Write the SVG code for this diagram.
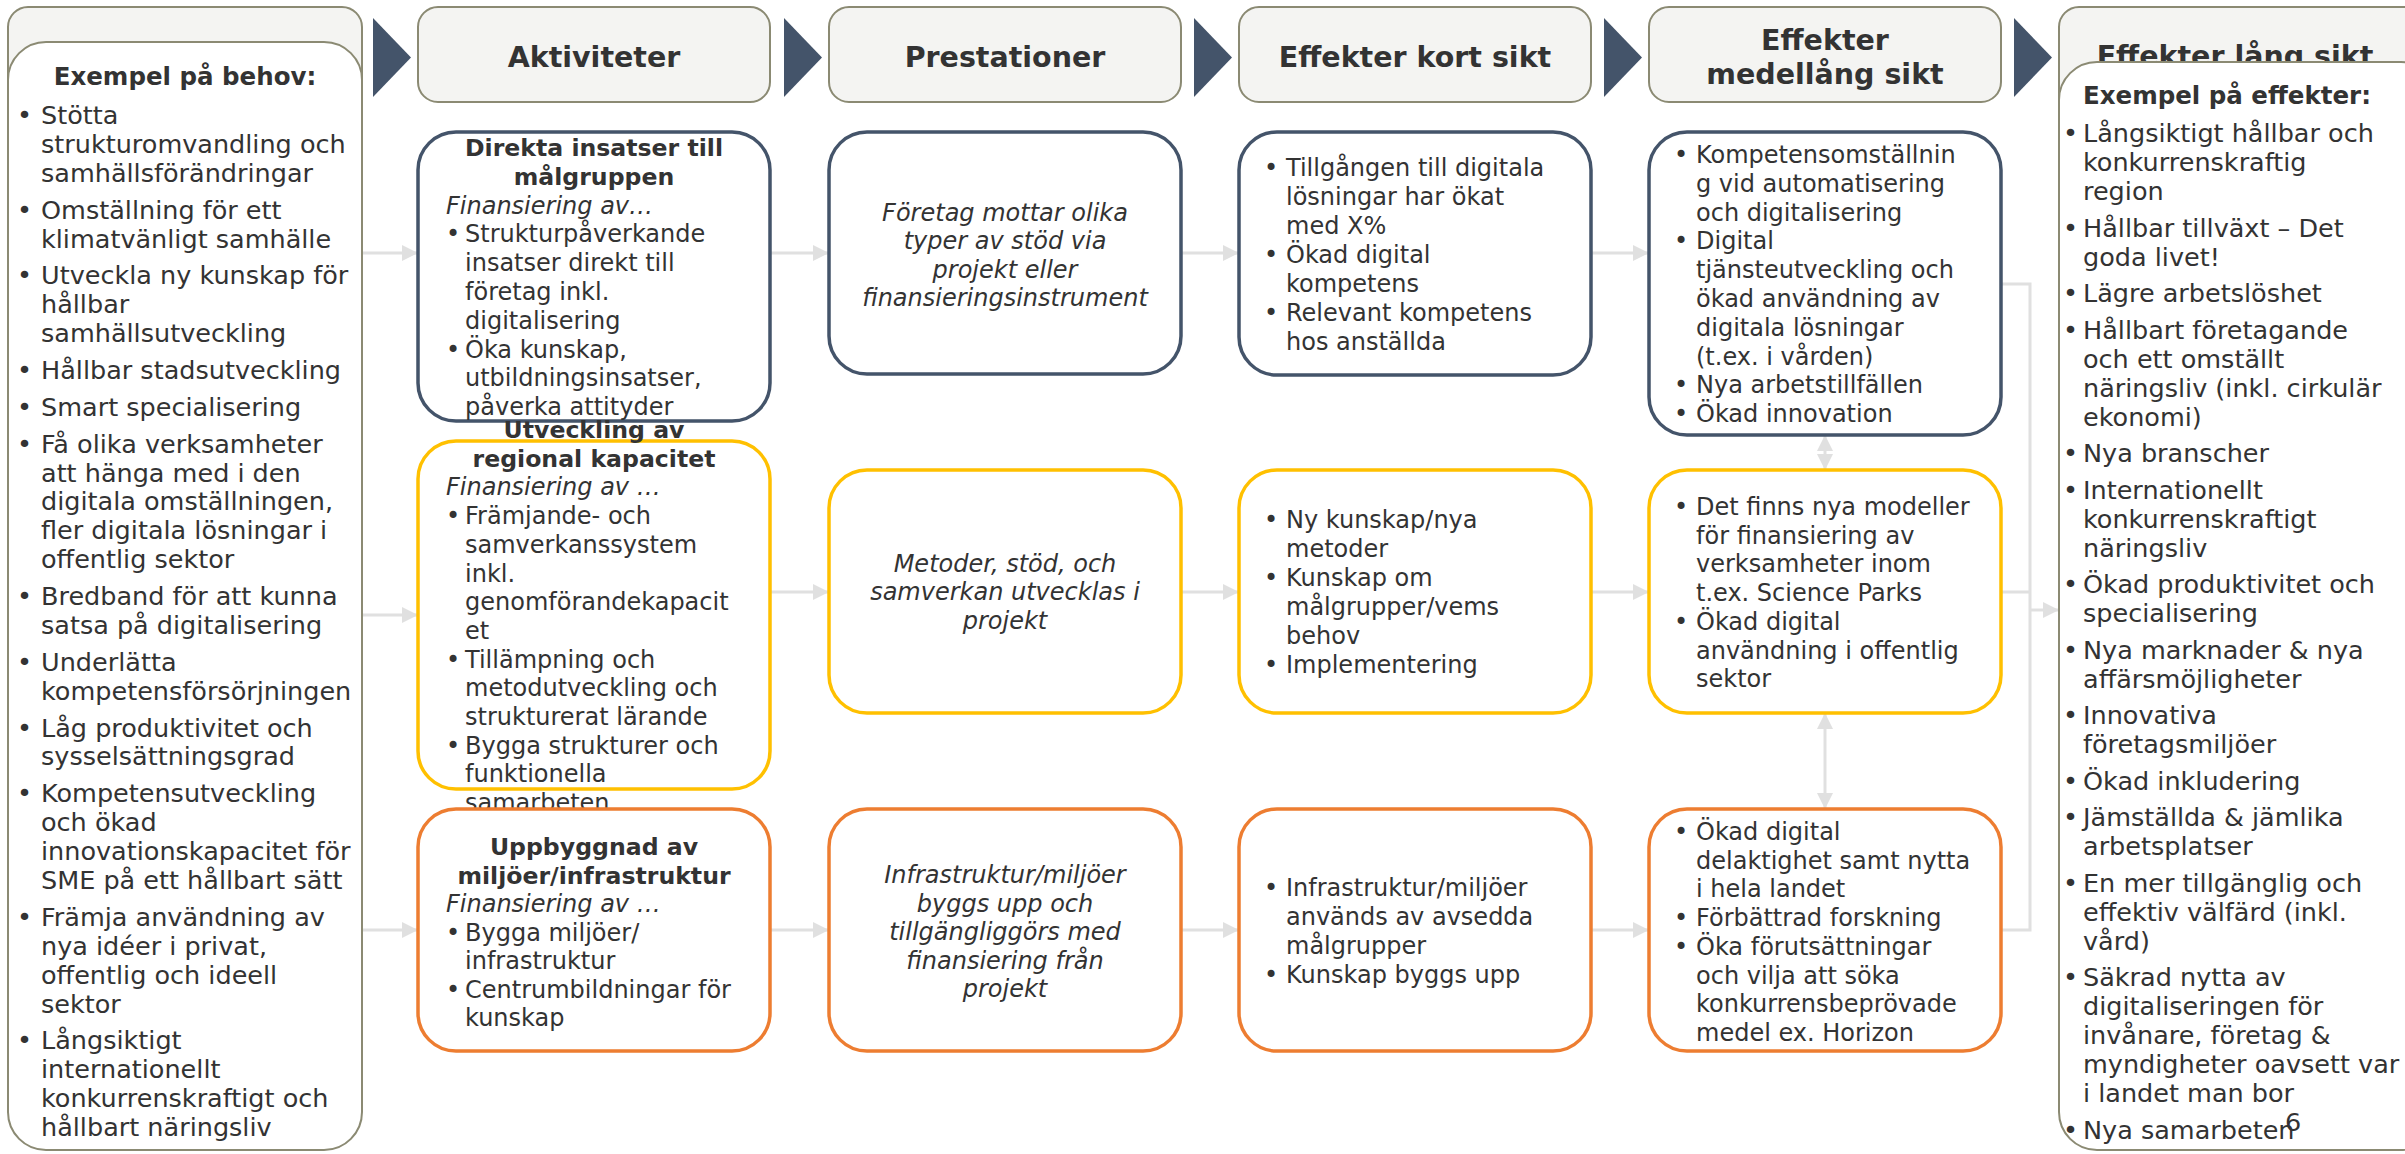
<svg xmlns="http://www.w3.org/2000/svg" width="2405" height="1154" viewBox="0 0 2405 1154">
<defs>
<style>
text{font-family:"DejaVu Sans",Verdana,sans-serif;fill:#333333}
.hdr{fill:#f4f4f2;stroke:#8b8a73;stroke-width:2}
.panel{fill:#ffffff;stroke:#8b8a73;stroke-width:2}
.chev{fill:#44546a}
.box{fill:#ffffff;stroke-width:3.5}
.blue{stroke:#44546a}
.yel{stroke:#ffc000}
.org{stroke:#ed7d31}
.ht{font-size:28.5px;font-weight:bold;text-anchor:middle}
.pt{font-size:25.5px}
.ptb{font-size:24.5px;font-weight:bold;text-anchor:middle}
.t{font-size:24px}
.tb{font-size:23.6px;font-weight:bold;text-anchor:middle}
.ti{font-size:24px;font-style:italic}
.tc{font-size:24px;font-style:italic;text-anchor:middle}
.conn{fill:none;stroke:#e0e0e0;stroke-width:3}
</style>
<marker id="ah" viewBox="0 0 16 16" markerWidth="16" markerHeight="16" refX="16" refY="8" orient="auto-start-reverse" markerUnits="userSpaceOnUse"><path d="M0,0 L16,8 L0,16 z" fill="#e0e0e0"/></marker>
</defs>

<g id="headers">
<rect class="hdr" x="8" y="7" width="354" height="150" rx="20"/>
<rect class="hdr" x="418" y="7" width="352" height="95" rx="20"/>
<text class="ht" x="594" y="67">Aktiviteter</text>
<rect class="hdr" x="829" y="7" width="352" height="95" rx="20"/>
<text class="ht" x="1005" y="67">Prestationer</text>
<rect class="hdr" x="1239" y="7" width="352" height="95" rx="20"/>
<text class="ht" x="1415" y="67">Effekter kort sikt</text>
<rect class="hdr" x="1649" y="7" width="352" height="95" rx="20"/>
<text class="ht" x="1825" y="50">Effekter</text>
<text class="ht" x="1825" y="84">medellång sikt</text>
<rect class="hdr" x="2059" y="7" width="380" height="150" rx="20"/>
<text class="ht" x="2235" y="66">Effekter lång sikt</text>
</g>

<g id="chevrons">
<polygon class="chev" points="373,18 411,57.5 373,97"/>
<polygon class="chev" points="784,18 822,57.5 784,97"/>
<polygon class="chev" points="1194,18 1232,57.5 1194,97"/>
<polygon class="chev" points="1604,18 1642,57.5 1604,97"/>
<polygon class="chev" points="2014,18 2052,57.5 2014,97"/>
</g>

<g id="connectors">
<path class="conn" marker-end="url(#ah)" d="M362,253 H418"/>
<path class="conn" marker-end="url(#ah)" d="M770,253 H829"/>
<path class="conn" marker-end="url(#ah)" d="M1181,253 H1239"/>
<path class="conn" marker-end="url(#ah)" d="M1591,253 H1649"/>
<path class="conn" marker-end="url(#ah)" d="M362,615 H418"/>
<path class="conn" marker-end="url(#ah)" d="M770,592 H829"/>
<path class="conn" marker-end="url(#ah)" d="M1181,592 H1239"/>
<path class="conn" marker-end="url(#ah)" d="M1591,592 H1649"/>
<path class="conn" marker-end="url(#ah)" d="M362,930 H418"/>
<path class="conn" marker-end="url(#ah)" d="M770,930 H829"/>
<path class="conn" marker-end="url(#ah)" d="M1181,930 H1239"/>
<path class="conn" marker-end="url(#ah)" d="M1591,930 H1649"/>
<path class="conn" d="M2001,284 H2030 V930 H2001 M2001,592 H2030"/>
<path class="conn" marker-end="url(#ah)" d="M2030,610 H2059"/>
<path class="conn" marker-start="url(#ah)" marker-end="url(#ah)" d="M1825,435 V470"/>
<path class="conn" marker-start="url(#ah)" marker-end="url(#ah)" d="M1825,713 V809"/>
</g>

<g id="behov">
<rect class="panel" x="8" y="42" width="354" height="1108" rx="38"/>
<text class="ptb" x="185" y="85">Exempel på behov:</text>
<g class="pt">
<text x="17" y="124">•</text><text x="41" y="124">Stötta</text>
<text x="41" y="153">strukturomvandling och</text>
<text x="41" y="182">samhällsförändringar</text>
<text x="17" y="218.7">•</text><text x="41" y="218.7">Omställning för ett</text>
<text x="41" y="247.6">klimatvänligt samhälle</text>
<text x="17" y="284.4">•</text><text x="41" y="284.4">Utveckla ny kunskap för</text>
<text x="41" y="313.3">hållbar</text>
<text x="41" y="342.3">samhällsutveckling</text>
<text x="17" y="379">•</text><text x="41" y="379">Hållbar stadsutveckling</text>
<text x="17" y="415.8">•</text><text x="41" y="415.8">Smart specialisering</text>
<text x="17" y="452.5">•</text><text x="41" y="452.5">Få olika verksamheter</text>
<text x="41" y="481.5">att hänga med i den</text>
<text x="41" y="510.4">digitala omställningen,</text>
<text x="41" y="539.4">fler digitala lösningar i</text>
<text x="41" y="568.3">offentlig sektor</text>
<text x="17" y="605">•</text><text x="41" y="605">Bredband för att kunna</text>
<text x="41" y="634">satsa på digitalisering</text>
<text x="17" y="670.8">•</text><text x="41" y="670.8">Underlätta</text>
<text x="41" y="699.7">kompetensförsörjningen</text>
<text x="17" y="736.5">•</text><text x="41" y="736.5">Låg produktivitet och</text>
<text x="41" y="765.4">sysselsättningsgrad</text>
<text x="17" y="802.2">•</text><text x="41" y="802.2">Kompetensutveckling</text>
<text x="41" y="831.1">och ökad</text>
<text x="41" y="860">innovationskapacitet för</text>
<text x="41" y="889">SME på ett hållbart sätt</text>
<text x="17" y="925.8">•</text><text x="41" y="925.8">Främja användning av</text>
<text x="41" y="954.7">nya idéer i privat,</text>
<text x="41" y="983.7">offentlig och ideell</text>
<text x="41" y="1012.6">sektor</text>
<text x="17" y="1049.4">•</text><text x="41" y="1049.4">Långsiktigt</text>
<text x="41" y="1078.3">internationellt</text>
<text x="41" y="1107.3">konkurrenskraftigt och</text>
<text x="41" y="1136.2">hållbart näringsliv</text>
</g>
</g>

<g id="effekter">
<rect class="panel" x="2059" y="62" width="380" height="1088" rx="38"/>
<text class="ptb" x="2083" y="104" style="text-anchor:start">Exempel på effekter:</text>
<g class="pt">
<text x="2063" y="142.4">•</text><text x="2083" y="142.4">Långsiktigt hållbar och</text>
<text x="2083" y="171.4">konkurrenskraftig</text>
<text x="2083" y="200.3">region</text>
<text x="2063" y="236.9">•</text><text x="2083" y="236.9">Hållbar tillväxt – Det</text>
<text x="2083" y="265.8">goda livet!</text>
<text x="2063" y="302.4">•</text><text x="2083" y="302.4">Lägre arbetslöshet</text>
<text x="2063" y="338.9">•</text><text x="2083" y="338.9">Hållbart företagande</text>
<text x="2083" y="367.9">och ett omställt</text>
<text x="2083" y="396.8">näringsliv (inkl. cirkulär</text>
<text x="2083" y="425.8">ekonomi)</text>
<text x="2063" y="462.3">•</text><text x="2083" y="462.3">Nya branscher</text>
<text x="2063" y="498.9">•</text><text x="2083" y="498.9">Internationellt</text>
<text x="2083" y="527.8">konkurrenskraftigt</text>
<text x="2083" y="556.8">näringsliv</text>
<text x="2063" y="593.3">•</text><text x="2083" y="593.3">Ökad produktivitet och</text>
<text x="2083" y="622.3">specialisering</text>
<text x="2063" y="658.8">•</text><text x="2083" y="658.8">Nya marknader &amp; nya</text>
<text x="2083" y="687.8">affärsmöjligheter</text>
<text x="2063" y="724.3">•</text><text x="2083" y="724.3">Innovativa</text>
<text x="2083" y="753.3">företagsmiljöer</text>
<text x="2063" y="789.8">•</text><text x="2083" y="789.8">Ökad inkludering</text>
<text x="2063" y="826.4">•</text><text x="2083" y="826.4">Jämställda &amp; jämlika</text>
<text x="2083" y="855.3">arbetsplatser</text>
<text x="2063" y="891.9">•</text><text x="2083" y="891.9">En mer tillgänglig och</text>
<text x="2083" y="920.8">effektiv välfärd (inkl.</text>
<text x="2083" y="949.8">vård)</text>
<text x="2063" y="986.3">•</text><text x="2083" y="986.3">Säkrad nytta av</text>
<text x="2083" y="1015.3">digitaliseringen för</text>
<text x="2083" y="1044.2">invånare, företag &amp;</text>
<text x="2083" y="1073.2">myndigheter oavsett var</text>
<text x="2083" y="1102.1">i landet man bor</text>
<text x="2063" y="1138.7">•</text><text x="2083" y="1138.7">Nya samarbeten</text>
</g>
<text class="pt" x="2293" y="1131" style="text-anchor:middle">6</text>
</g>

<g id="akt-direkta">
<rect class="box blue" x="418" y="132" width="352" height="289" rx="38"/>
<text class="tb" x="594" y="156">Direkta insatser till</text>
<text class="tb" x="594" y="184.8">målgruppen</text>
<text class="ti" x="446" y="213.6">Finansiering av…</text>
<g class="t">
<text x="446" y="242.4">•</text><text x="465" y="242.4">Strukturpåverkande</text>
<text x="465" y="271.2">insatser direkt till</text>
<text x="465" y="300">företag inkl.</text>
<text x="465" y="328.8">digitalisering</text>
<text x="446" y="357.6">•</text><text x="465" y="357.6">Öka kunskap,</text>
<text x="465" y="386.4">utbildningsinsatser,</text>
<text x="465" y="415.2">påverka attityder</text>
</g>
</g>

<g id="akt-regional">
<rect class="box yel" x="418" y="441" width="352" height="348" rx="38"/>
<text class="tb" x="594" y="438">Utveckling av</text>
<text class="tb" x="594" y="466.7">regional kapacitet</text>
<text class="ti" x="446" y="495.4">Finansiering av …</text>
<g class="t">
<text x="446" y="524.1">•</text><text x="465" y="524.1">Främjande- och</text>
<text x="465" y="552.8">samverkanssystem</text>
<text x="465" y="581.5">inkl.</text>
<text x="465" y="610.2">genomförandekapacit</text>
<text x="465" y="638.9">et</text>
<text x="446" y="667.6">•</text><text x="465" y="667.6">Tillämpning och</text>
<text x="465" y="696.3">metodutveckling och</text>
<text x="465" y="725">strukturerat lärande</text>
<text x="446" y="753.7">•</text><text x="465" y="753.7">Bygga strukturer och</text>
<text x="465" y="782.4">funktionella</text>
<text x="465" y="811.1">samarbeten</text>
</g>
</g>

<g id="akt-infra">
<rect class="box org" x="418" y="809" width="352" height="242" rx="38"/>
<text class="tb" x="594" y="855">Uppbyggnad av</text>
<text class="tb" x="594" y="883.5">miljöer/infrastruktur</text>
<text class="ti" x="446" y="912">Finansiering av …</text>
<g class="t">
<text x="446" y="940.5">•</text><text x="465" y="940.5">Bygga miljöer/</text>
<text x="465" y="969">infrastruktur</text>
<text x="446" y="997.5">•</text><text x="465" y="997.5">Centrumbildningar för</text>
<text x="465" y="1026">kunskap</text>
</g>
</g>

<g id="prest-1">
<rect class="box blue" x="829" y="132" width="352" height="242" rx="38"/>
<text class="tc" x="1005" y="220.5">Företag mottar olika</text>
<text class="tc" x="1005" y="249">typer av stöd via</text>
<text class="tc" x="1005" y="277.5">projekt eller</text>
<text class="tc" x="1005" y="306">finansieringsinstrument</text>
</g>
<g id="prest-2">
<rect class="box yel" x="829" y="470" width="352" height="243" rx="38"/>
<text class="tc" x="1005" y="571.5">Metoder, stöd, och</text>
<text class="tc" x="1005" y="600.3">samverkan utvecklas i</text>
<text class="tc" x="1005" y="629">projekt</text>
</g>
<g id="prest-3">
<rect class="box org" x="829" y="809" width="352" height="242" rx="38"/>
<text class="tc" x="1005" y="883">Infrastruktur/miljöer</text>
<text class="tc" x="1005" y="911.5">byggs upp och</text>
<text class="tc" x="1005" y="940">tillgängliggörs med</text>
<text class="tc" x="1005" y="968.5">finansiering från</text>
<text class="tc" x="1005" y="997">projekt</text>
</g>

<g id="kort-1">
<rect class="box blue" x="1239" y="132" width="352" height="243" rx="38"/>
<g class="t">
<text x="1264" y="176">•</text><text x="1286" y="176">Tillgången till digitala</text>
<text x="1286" y="205">lösningar har ökat</text>
<text x="1286" y="234">med X%</text>
<text x="1264" y="263">•</text><text x="1286" y="263">Ökad digital</text>
<text x="1286" y="292">kompetens</text>
<text x="1264" y="321">•</text><text x="1286" y="321">Relevant kompetens</text>
<text x="1286" y="350">hos anställda</text>
</g>
</g>
<g id="kort-2">
<rect class="box yel" x="1239" y="470" width="352" height="243" rx="38"/>
<g class="t">
<text x="1264" y="528">•</text><text x="1286" y="528">Ny kunskap/nya</text>
<text x="1286" y="557">metoder</text>
<text x="1264" y="586">•</text><text x="1286" y="586">Kunskap om</text>
<text x="1286" y="615">målgrupper/vems</text>
<text x="1286" y="644">behov</text>
<text x="1264" y="673">•</text><text x="1286" y="673">Implementering</text>
</g>
</g>
<g id="kort-3">
<rect class="box org" x="1239" y="809" width="352" height="242" rx="38"/>
<g class="t">
<text x="1264" y="896">•</text><text x="1286" y="896">Infrastruktur/miljöer</text>
<text x="1286" y="925">används av avsedda</text>
<text x="1286" y="954">målgrupper</text>
<text x="1264" y="983">•</text><text x="1286" y="983">Kunskap byggs upp</text>
</g>
</g>

<g id="medel-1">
<rect class="box blue" x="1649" y="132" width="352" height="303" rx="38"/>
<g class="t">
<text x="1674" y="163">•</text><text x="1696" y="163">Kompetensomställnin</text>
<text x="1696" y="191.8">g vid automatisering</text>
<text x="1696" y="220.6">och digitalisering</text>
<text x="1674" y="249.4">•</text><text x="1696" y="249.4">Digital</text>
<text x="1696" y="278.2">tjänsteutveckling och</text>
<text x="1696" y="307">ökad användning av</text>
<text x="1696" y="335.8">digitala lösningar</text>
<text x="1696" y="364.6">(t.ex. i vården)</text>
<text x="1674" y="393.4">•</text><text x="1696" y="393.4">Nya arbetstillfällen</text>
<text x="1674" y="422.2">•</text><text x="1696" y="422.2">Ökad innovation</text>
</g>
</g>
<g id="medel-2">
<rect class="box yel" x="1649" y="470" width="352" height="243" rx="38"/>
<g class="t">
<text x="1674" y="515">•</text><text x="1696" y="515">Det finns nya modeller</text>
<text x="1696" y="543.7">för finansiering av</text>
<text x="1696" y="572.4">verksamheter inom</text>
<text x="1696" y="601.1">t.ex. Science Parks</text>
<text x="1674" y="629.8">•</text><text x="1696" y="629.8">Ökad digital</text>
<text x="1696" y="658.5">användning i offentlig</text>
<text x="1696" y="687.2">sektor</text>
</g>
</g>
<g id="medel-3">
<rect class="box org" x="1649" y="809" width="352" height="242" rx="38"/>
<g class="t">
<text x="1674" y="840">•</text><text x="1696" y="840">Ökad digital</text>
<text x="1696" y="868.7">delaktighet samt nytta</text>
<text x="1696" y="897.4">i hela landet</text>
<text x="1674" y="926.1">•</text><text x="1696" y="926.1">Förbättrad forskning</text>
<text x="1674" y="954.8">•</text><text x="1696" y="954.8">Öka förutsättningar</text>
<text x="1696" y="983.5">och vilja att söka</text>
<text x="1696" y="1012.2">konkurrensbeprövade</text>
<text x="1696" y="1040.9">medel ex. Horizon</text>
</g>
</g>
</svg>
